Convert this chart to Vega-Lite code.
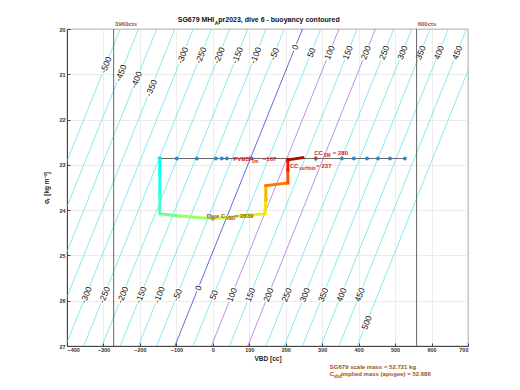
{
  "$schema": "https://vega.github.io/schema/vega-lite/v6.json",
  "autosize": {"type": "none"},
  "padding": {"left": 67, "top": 29, "right": 52, "bottom": 44},
  "width": 401,
  "height": 317,
  "background": "white",
  "config": {
    "view": {"stroke": "#444", "strokeWidth": 0.8},
    "axis": {"gridColor": "#e4e4e4", "gridWidth": 0.7, "domainColor": "#444", "tickColor": "#444", "labelFont": "Liberation Sans", "labelFontSize": 5.5, "labelFontWeight": "bold", "labelColor": "#333", "titleFont": "Liberation Sans", "titleFontSize": 6.5, "titleFontWeight": "bold", "titleColor": "#222", "tickSize": -3}
  },
  "datasets": {
    "contours": [
      {"b": -500, "v": -254, "s": 20, "k": "c"}, {"b": -500, "v": -604, "s": 27, "k": "c"},
      {"b": -450, "v": -204, "s": 20, "k": "c"}, {"b": -450, "v": -554, "s": 27, "k": "c"},
      {"b": -400, "v": -154, "s": 20, "k": "c"}, {"b": -400, "v": -504, "s": 27, "k": "c"},
      {"b": -350, "v": -104, "s": 20, "k": "c"}, {"b": -350, "v": -454, "s": 27, "k": "c"},
      {"b": -300, "v": -54, "s": 20, "k": "c"}, {"b": -300, "v": -404, "s": 27, "k": "c"},
      {"b": -250, "v": -4, "s": 20, "k": "c"}, {"b": -250, "v": -354, "s": 27, "k": "c"},
      {"b": -200, "v": 46, "s": 20, "k": "c"}, {"b": -200, "v": -304, "s": 27, "k": "c"},
      {"b": -150, "v": 96, "s": 20, "k": "c"}, {"b": -150, "v": -254, "s": 27, "k": "c"},
      {"b": -100, "v": 146, "s": 20, "k": "c"}, {"b": -100, "v": -204, "s": 27, "k": "c"},
      {"b": -50, "v": 196, "s": 20, "k": "c"}, {"b": -50, "v": -154, "s": 27, "k": "c"},
      {"b": 0, "v": 246, "s": 20, "k": "z"}, {"b": 0, "v": -104, "s": 27, "k": "z"},
      {"b": 50, "v": 296, "s": 20, "k": "c"}, {"b": 50, "v": -54, "s": 27, "k": "c"},
      {"b": 100, "v": 346, "s": 20, "k": "p"}, {"b": 100, "v": -4, "s": 27, "k": "p"},
      {"b": 150, "v": 396, "s": 20, "k": "c"}, {"b": 150, "v": 46, "s": 27, "k": "c"},
      {"b": 200, "v": 446, "s": 20, "k": "p"}, {"b": 200, "v": 96, "s": 27, "k": "p"},
      {"b": 250, "v": 496, "s": 20, "k": "c"}, {"b": 250, "v": 146, "s": 27, "k": "c"},
      {"b": 300, "v": 546, "s": 20, "k": "c"}, {"b": 300, "v": 196, "s": 27, "k": "c"},
      {"b": 350, "v": 596, "s": 20, "k": "c"}, {"b": 350, "v": 246, "s": 27, "k": "c"},
      {"b": 400, "v": 646, "s": 20, "k": "c"}, {"b": 400, "v": 296, "s": 27, "k": "c"},
      {"b": 450, "v": 696, "s": 20, "k": "c"}, {"b": 450, "v": 346, "s": 27, "k": "c"},
      {"b": 500, "v": 746, "s": 20, "k": "c"}, {"b": 500, "v": 396, "s": 27, "k": "c"}
    ],
    "labels": [
      {"t": "-500", "v": -293.5, "s": 20.79}, {"t": "-450", "v": -252.5, "s": 20.97},
      {"t": "-400", "v": -210, "s": 21.12}, {"t": "-350", "v": -169, "s": 21.3},
      {"t": "-300", "v": -83, "s": 20.58}, {"t": "-250", "v": -33, "s": 20.58},
      {"t": "-200", "v": 17, "s": 20.58}, {"t": "-150", "v": 67, "s": 20.58},
      {"t": "-100", "v": 117, "s": 20.58}, {"t": "-50", "v": 168.5, "s": 20.55},
      {"t": "0", "v": 226, "s": 20.4}, {"t": "50", "v": 270, "s": 20.52},
      {"t": "100", "v": 320, "s": 20.52}, {"t": "150", "v": 370, "s": 20.52},
      {"t": "200", "v": 420, "s": 20.52}, {"t": "250", "v": 470, "s": 20.52},
      {"t": "300", "v": 520, "s": 20.52}, {"t": "350", "v": 570, "s": 20.52},
      {"t": "400", "v": 620, "s": 20.52}, {"t": "450", "v": 670, "s": 20.52},
      {"t": "-300", "v": -347.5, "s": 25.87}, {"t": "-250", "v": -297.5, "s": 25.87},
      {"t": "-200", "v": -247.5, "s": 25.87}, {"t": "-150", "v": -197.5, "s": 25.87},
      {"t": "-100", "v": -147.5, "s": 25.87}, {"t": "-50", "v": -97.5, "s": 25.87},
      {"t": "0", "v": -40, "s": 25.72}, {"t": "50", "v": 2.5, "s": 25.87},
      {"t": "100", "v": 52.5, "s": 25.87}, {"t": "150", "v": 102.5, "s": 25.87},
      {"t": "200", "v": 152.5, "s": 25.87}, {"t": "250", "v": 202.5, "s": 25.87},
      {"t": "300", "v": 252.5, "s": 25.87}, {"t": "350", "v": 302.5, "s": 25.87},
      {"t": "400", "v": 352.5, "s": 25.87}, {"t": "450", "v": 402.5, "s": 25.87},
      {"t": "500", "v": 422, "s": 26.48}
    ],
    "surface": [
      {"v": -145.5, "s": 22.86}, {"v": -98.8, "s": 22.86}, {"v": -43.9, "s": 22.86},
      {"v": 8.2, "s": 22.86}, {"v": 24.7, "s": 22.86}, {"v": 38.4, "s": 22.86},
      {"v": 107, "s": 22.86}, {"v": 282.7, "s": 22.86}, {"v": 354, "s": 22.86},
      {"v": 387, "s": 22.86}, {"v": 423, "s": 22.86}, {"v": 453, "s": 22.86},
      {"v": 486, "s": 22.86}, {"v": 527, "s": 22.86}
    ],
    "track": [
      {"v": -145.5, "s": 22.867, "v2": -145.5, "s2": 23.22, "t": 0.0},
      {"v": -145.5, "s": 23.22, "v2": -145.5, "s2": 23.66, "t": 0.08},
      {"v": -145.5, "s": 23.66, "v2": -145.5, "s2": 24.08, "t": 0.16},
      {"v": -145.5, "s": 24.08, "v2": -90.6, "s2": 24.13, "t": 0.25},
      {"v": -90.6, "s": 24.13, "v2": 0, "s2": 24.19, "t": 0.33},
      {"v": 0, "s": 24.19, "v2": 74, "s2": 24.13, "t": 0.42},
      {"v": 74, "s": 24.13, "v2": 142.7, "s2": 24.08, "t": 0.5},
      {"v": 142.7, "s": 24.08, "v2": 145.4, "s2": 23.77, "t": 0.58},
      {"v": 145.4, "s": 23.77, "v2": 145.4, "s2": 23.46, "t": 0.66},
      {"v": 145.4, "s": 23.46, "v2": 205.8, "s2": 23.4, "t": 0.74},
      {"v": 205.8, "s": 23.4, "v2": 205.8, "s2": 23.11, "t": 0.8},
      {"v": 205.8, "s": 23.11, "v2": 205.8, "s2": 22.89, "t": 0.87},
      {"v": 205.8, "s": 22.89, "v2": 247, "s2": 22.84, "t": 0.95}
    ],
    "marks": [
      {"v": 0, "s": 24.19, "k": "brown"}, {"v": 101, "s": 22.86, "k": "red"}, {"v": 282, "s": 22.86, "k": "red"}
    ],
    "leftText": [
      {"v": 137.2, "s": 22.867, "t": "=167", "k": "red"},
      {"v": 329.3, "s": 22.734, "t": "= 280", "k": "red"},
      {"v": 284, "s": 23.02, "t": "= 237", "k": "red"},
      {"v": 60.3, "s": 24.127, "t": "= 2839", "k": "brown"},
      {"v": 321, "s": 27.465, "t": "SG679 scale mass = 52.721 kg", "k": "brown"},
      {"v": 351.3, "s": 27.62, "t": "implied mass (apogee) = 52.686", "k": "brown"},
      {"v": 321, "s": 27.62, "t": "C", "k": "brown"},
      {"v": -268, "s": 19.89, "t": "3960cts", "k": "brown"},
      {"v": 562, "s": 19.89, "t": "600cts", "k": "brown"}
    ],
    "rightText": [
      {"v": 101.5, "s": 22.867, "t": "PVBD", "k": "red"},
      {"v": 301.9, "s": 22.734, "t": "CC", "k": "red"},
      {"v": 234.6, "s": 23.02, "t": "CC", "k": "red"},
      {"v": 34.3, "s": 24.127, "t": "Dive C", "k": "brown"}
    ],
    "subText": [
      {"v": 107, "s": 22.867, "t": "1m", "k": "red"},
      {"v": 304.6, "s": 22.734, "t": "SM", "k": "red"},
      {"v": 237.4, "s": 23.02, "t": "surfmin", "k": "red"},
      {"v": 35.6, "s": 24.127, "t": "VBD", "k": "brown"},
      {"v": 332, "s": 27.62, "t": "vbd", "k": "brown"}
    ],
    "titleParts": [
      {"v": 4.1, "s": 19.81, "t": "SG679 MHI", "part": "a"},
      {"v": 5, "s": 19.81, "t": "A", "part": "sub"},
      {"v": 15, "s": 19.81, "t": "pr2023, dive 6 - buoyancy contoured", "part": "b"}
    ],
    "cts": [{"v": -272}, {"v": 559}]
  },
  "encoding": {
    "x": {"field": "v", "type": "quantitative", "scale": {"domain": [-400, 700], "nice": false, "zero": false},
      "axis": {"values": [-400, -300, -200, -100, 0, 100, 200, 300, 400, 500, 600, 700], "title": "VBD [cc]", "labelPadding": 4, "titlePadding": 3, "grid": true}},
    "y": {"field": "s", "type": "quantitative", "scale": {"domain": [20, 27], "nice": false, "zero": false, "reverse": true},
      "axis": {"values": [20, 21, 22, 23, 24, 25, 26, 27], "title": "σₜ [kg m⁻³]", "labelPadding": 5, "titlePadding": 9, "grid": true}}
  },
  "layer": [
    {
      "data": {"name": "contours"},
      "mark": {"type": "line", "clip": true, "strokeWidth": 0.65},
      "encoding": {
        "detail": {"field": "b", "type": "nominal"},
        "color": {"field": "k", "type": "nominal", "scale": {"domain": ["c", "z", "p"], "range": ["#3fe0e6", "#1414c8", "#9a55d8"]}, "legend": null}
      }
    },
    {
      "data": {"name": "labels"},
      "mark": {"type": "text", "angle": 292, "font": "Liberation Sans", "fontSize": 8.5, "stroke": "white", "strokeWidth": 3, "fill": "white", "baseline": "middle", "align": "center"},
      "encoding": {"text": {"field": "t", "type": "nominal"}}
    },
    {
      "data": {"name": "labels"},
      "mark": {"type": "text", "angle": 292, "font": "Liberation Sans", "fontSize": 8.5, "color": "#111", "baseline": "middle", "align": "center"},
      "encoding": {"text": {"field": "t", "type": "nominal"}}
    },
    {
      "data": {"name": "cts"},
      "mark": {"type": "rule", "color": "#555", "strokeWidth": 0.9},
      "encoding": {"y": {"value": 0}, "y2": {"value": 317}}
    },
    {
      "data": {"name": "surface"},
      "mark": {"type": "line", "color": "#555", "strokeWidth": 0.9},
      "encoding": {}
    },
    {
      "data": {"name": "surface"},
      "mark": {"type": "circle", "color": "#2a86d6", "size": 15, "opacity": 1},
      "encoding": {}
    },
    {
      "data": {"name": "track"},
      "mark": {"type": "rule", "strokeWidth": 3, "strokeCap": "square"},
      "encoding": {
        "x2": {"field": "v2"},
        "y2": {"field": "s2"},
        "color": {"field": "t", "type": "quantitative", "scale": {"domain": [0, 0.15, 0.3, 0.45, 0.6, 0.72, 0.85, 1], "range": ["#00ffff", "#40ffd0", "#90ff70", "#d0ff30", "#ffe000", "#ff8000", "#ff2000", "#8a0000"]}, "legend": null}
      }
    },
    {
      "data": {"name": "marks"},
      "mark": {"type": "point", "shape": "M-1,0L1,0M0,-1L0,1", "size": 30, "strokeWidth": 1, "filled": false},
      "encoding": {"color": {"field": "k", "type": "nominal", "scale": {"domain": ["red", "brown"], "range": ["#e02020", "#a0521d"]}, "legend": null}}
    },
    {
      "data": {"name": "leftText"},
      "mark": {"type": "text", "align": "left", "baseline": "middle", "font": "Liberation Sans", "fontSize": 6, "fontWeight": "bold"},
      "encoding": {"text": {"field": "t", "type": "nominal"},
        "color": {"field": "k", "type": "nominal", "scale": {"domain": ["red", "brown"], "range": ["#e02020", "#a0521d"]}, "legend": null}}
    },
    {
      "data": {"name": "rightText"},
      "mark": {"type": "text", "align": "right", "baseline": "middle", "font": "Liberation Sans", "fontSize": 6, "fontWeight": "bold"},
      "encoding": {"text": {"field": "t", "type": "nominal"},
        "color": {"field": "k", "type": "nominal", "scale": {"domain": ["red", "brown"], "range": ["#e02020", "#a0521d"]}, "legend": null}}
    },
    {
      "data": {"name": "subText"},
      "mark": {"type": "text", "align": "left", "baseline": "middle", "dy": 3, "font": "Liberation Sans", "fontSize": 4.5, "fontWeight": "bold"},
      "encoding": {"text": {"field": "t", "type": "nominal"},
        "color": {"field": "k", "type": "nominal", "scale": {"domain": ["red", "brown"], "range": ["#e02020", "#a0521d"]}, "legend": null}}
    },
    {
      "data": {"name": "titleParts"},
      "transform": [{"filter": "datum.part == 'a'"}],
      "mark": {"type": "text", "align": "right", "baseline": "middle", "font": "Liberation Sans", "fontSize": 7, "fontWeight": "bold", "color": "#111"},
      "encoding": {"text": {"field": "t", "type": "nominal"}}
    },
    {
      "data": {"name": "titleParts"},
      "transform": [{"filter": "datum.part == 'sub'"}],
      "mark": {"type": "text", "align": "left", "baseline": "middle", "dy": 2.5, "font": "Liberation Sans", "fontSize": 5, "fontWeight": "bold", "color": "#111"},
      "encoding": {"text": {"field": "t", "type": "nominal"}}
    },
    {
      "data": {"name": "titleParts"},
      "transform": [{"filter": "datum.part == 'b'"}],
      "mark": {"type": "text", "align": "left", "baseline": "middle", "font": "Liberation Sans", "fontSize": 7, "fontWeight": "bold", "color": "#111"},
      "encoding": {"text": {"field": "t", "type": "nominal"}}
    }
  ],
  "resolve": {"scale": {"color": "independent"}}
}
